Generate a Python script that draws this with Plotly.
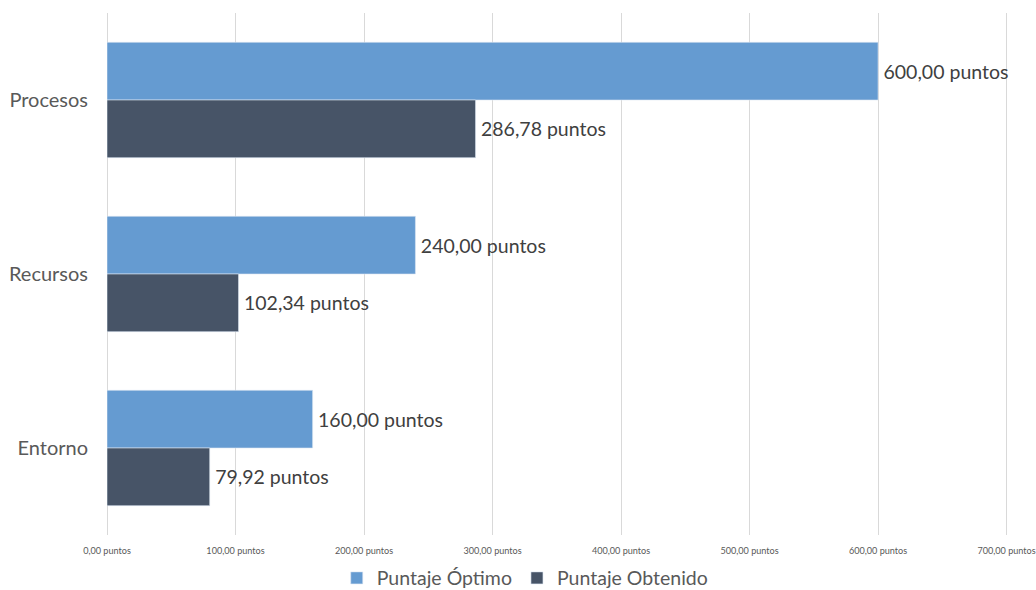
import plotly.graph_objects as go

categories = ["Procesos", "Recursos", "Entorno"]
optimo = [600.00, 240.00, 160.00]
obtenido = [286.78, 102.34, 79.92]
tick_values = [0, 100, 200, 300, 400, 500, 600, 700]
tick_labels = ["0,00 puntos", "100,00 puntos", "200,00 puntos", "300,00 puntos",
               "400,00 puntos", "500,00 puntos", "600,00 puntos", "700,00 puntos"]


def fmt(v):
    return f"{v:.2f}".replace(".", ",") + " puntos"


FONT = "Lato, 'Open Sans', sans-serif"

fig = go.Figure()
fig.add_trace(go.Bar(
    y=categories, x=optimo, orientation="h", name="Puntaje Óptimo",
    marker=dict(color="#659BD1", line=dict(color="#DCE6F2", width=0.6)),
    text=["\u2009" + fmt(v) for v in optimo], textposition="outside",
    textfont=dict(family=FONT, size=19.5, color="#404040"),
    cliponaxis=False,
))
fig.add_trace(go.Bar(
    y=categories, x=obtenido, orientation="h", name="Puntaje Obtenido",
    marker=dict(color="#475467", line=dict(color="#DCE6F2", width=0.6)),
    text=["\u2009" + fmt(v) for v in obtenido], textposition="outside",
    textfont=dict(family=FONT, size=19.5, color="#404040"),
    cliponaxis=False,
))

fig.update_layout(
    width=1036, height=590,
    margin=dict(l=107, r=22.6, t=13, b=55, autoexpand=False),
    paper_bgcolor="white", plot_bgcolor="white",
    barmode="group", bargap=0.337, bargroupgap=0,
    font=dict(family=FONT, color="#595959"),
    legend=dict(
        orientation="h", xref="container", yref="container",
        x=0.507, xanchor="center", y=0.02, yanchor="middle",
        font=dict(size=19.5, color="#595959"),
        itemwidth=30, traceorder="normal",
    ),
    xaxis=dict(
        range=[0, 705], tickvals=tick_values, ticktext=tick_labels,
        tickfont=dict(size=9.1, color="#595959"),
        showgrid=True, gridcolor="#D9D9D9", gridwidth=1,
        zeroline=True, zerolinecolor="#D9D9D9", zerolinewidth=1,
        showline=False, ticks="", ticklen=0, ticklabelstandoff=9,
        ticklabeloverflow="allow", automargin=False,
    ),
    yaxis=dict(
        autorange="reversed", categoryorder="array", categoryarray=categories,
        tickfont=dict(size=20, color="#595959"),
        showgrid=False, showline=False, ticks="", ticklabelstandoff=18,
        automargin=False,
    ),
)

fig.write_html("out.html")
